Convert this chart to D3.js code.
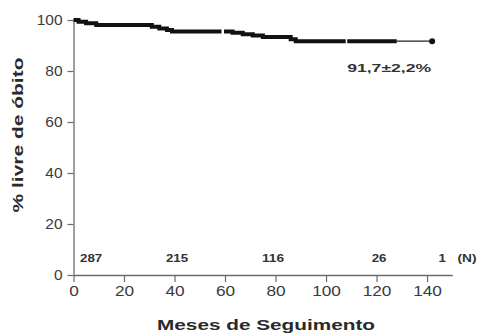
<!DOCTYPE html>
<html>
<head>
<meta charset="utf-8">
<script src="https://cdn.jsdelivr.net/npm/d3@7"></script>
<style>
  body { margin: 0; background: #fff; }
  svg text { font-family: "Liberation Sans", Arial, sans-serif; }
</style>
</head>
<body>
<div class="canvas"></div>
<script>
// Kaplan-Meier steps (months, % alive)
const kmTimes = [0, 2, 5, 9, 31, 34, 37, 39, 63, 67, 71, 75, 86, 88];
const kmSurv = [100, 99.3, 98.7, 98.0, 97.4, 96.7, 96.1, 95.5, 95.0, 94.4, 93.9, 93.3, 92.5, 91.7];
// dense censoring stretches (drawn thick) and the last patient
const thickRanges = [[0, 58.6], [59.6, 107.8], [108.4, 128]];
const lastTime = 142;
const xTicks = [0, 20, 40, 60, 80, 100, 120, 140];
const yTicks = [0, 20, 40, 60, 80, 100];
const atRiskTimes = [7, 41, 79, 121, 146];
const atRiskLabels = ['287', '215', '116', '26', '1'];
const finalLabel = '91,7±2,2%';

const dims = { width: 478, height: 334, left: 73.5, right: 452.3, top: 20, bottom: 275 };

const svg = d3.select('.canvas').append('svg')
    .attr('width', dims.width)
    .attr('height', dims.height);

const x = d3.scaleLinear().domain([0, 150]).range([dims.left, dims.right]);
const y = d3.scaleLinear().domain([0, 100]).range([dims.bottom, dims.top]);

const survAt = t => {
    let s = kmSurv[0];
    kmTimes.forEach((k, i) => { if (k <= t) s = kmSurv[i]; });
    return s;
};

const segmentPoints = (t0, t1) => {
    const pts = [[t0, survAt(t0)]];
    kmTimes.forEach((k, i) => { if (k > t0 && k <= t1) pts.push([k, kmSurv[i]]); });
    pts.push([t1, survAt(t1)]);
    return pts;
};

const line = d3.line()
    .x(d => x(d[0]))
    .y(d => y(d[1]))
    .curve(d3.curveStepAfter);

// axes
const xAxis = svg.append('g')
    .attr('transform', `translate(0,${dims.bottom})`)
    .call(d3.axisBottom(x).tickValues(xTicks).tickSize(7).tickSizeOuter(0).tickPadding(4));
const yAxis = svg.append('g')
    .attr('transform', `translate(${dims.left},0)`)
    .call(d3.axisLeft(y).tickValues(yTicks).tickSize(6).tickSizeOuter(0).tickPadding(5));

[xAxis, yAxis].forEach(g => {
    g.select('.domain').attr('stroke', '#6a6a6a').attr('stroke-width', 1.3);
    g.selectAll('.tick line').attr('stroke', '#6a6a6a').attr('stroke-width', 1.2);
    g.selectAll('.tick text')
        .attr('fill', '#3a3a3a')
        .style('font-size', '14px');
});
xAxis.selectAll('.tick text')
    .attr('textLength', d => String(d).length * 9.6)
    .attr('lengthAdjust', 'spacingAndGlyphs');
yAxis.selectAll('.tick text')
    .attr('textLength', d => String(d).length * 8.6)
    .attr('lengthAdjust', 'spacingAndGlyphs');

// survival curve
svg.append('g').selectAll('path.thick')
    .data(thickRanges)
    .join('path')
    .attr('class', 'thick')
    .attr('fill', 'none')
    .attr('stroke', '#111')
    .attr('stroke-width', 4)
    .attr('d', d => line(segmentPoints(d[0], d[1])));

svg.append('path')
    .attr('fill', 'none')
    .attr('stroke', '#222')
    .attr('stroke-width', 1.2)
    .attr('d', line(segmentPoints(thickRanges[thickRanges.length - 1][1], lastTime)));

svg.append('circle')
    .attr('cx', x(lastTime))
    .attr('cy', y(survAt(lastTime)))
    .attr('r', 3)
    .attr('fill', '#111');

svg.append('text')
    .attr('x', x(125))
    .attr('y', 72)
    .attr('text-anchor', 'middle')
    .attr('fill', '#333')
    .style('font-size', '11px')
    .style('font-weight', 'bold')
    .attr('textLength', 84)
    .attr('lengthAdjust', 'spacingAndGlyphs')
    .text(finalLabel);

// numbers at risk
svg.append('g').selectAll('text')
    .data(atRiskLabels)
    .join('text')
    .attr('x', (d, i) => x(atRiskTimes[i]))
    .attr('y', 262)
    .attr('text-anchor', 'middle')
    .attr('fill', '#333')
    .style('font-size', '10px')
    .style('font-weight', 'bold')
    .attr('textLength', d => d.length * 7.4)
    .attr('lengthAdjust', 'spacingAndGlyphs')
    .text(d => d);
svg.append('text')
    .attr('x', 467)
    .attr('y', 262)
    .attr('text-anchor', 'middle')
    .attr('fill', '#333')
    .style('font-size', '10px')
    .style('font-weight', 'bold')
    .attr('textLength', 19)
    .attr('lengthAdjust', 'spacingAndGlyphs')
    .text('(N)');

// axis titles
svg.append('text')
    .attr('x', 266)
    .attr('y', 330)
    .attr('text-anchor', 'middle')
    .attr('fill', '#2a2a2a')
    .style('font-size', '15px')
    .style('font-weight', 'bold')
    .attr('textLength', 218)
    .attr('lengthAdjust', 'spacingAndGlyphs')
    .text('Meses de Seguimento');

svg.append('text')
    .attr('transform', 'translate(23,135) rotate(-90)')
    .attr('text-anchor', 'middle')
    .attr('fill', '#2a2a2a')
    .style('font-size', '15px')
    .style('font-weight', 'bold')
    .attr('textLength', 155)
    .attr('lengthAdjust', 'spacingAndGlyphs')
    .text('% livre de óbito');
</script>
</body>
</html>
